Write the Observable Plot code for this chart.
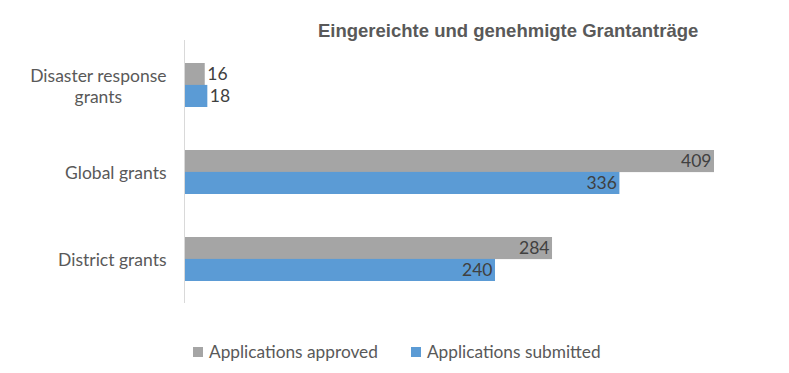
<!DOCTYPE html>
<html>
<head>
<meta charset="utf-8">
<script src="https://cdn.jsdelivr.net/npm/d3@7"></script>
<script src="https://cdn.jsdelivr.net/npm/@observablehq/plot@0.6"></script>
<style>
  html, body { margin: 0; padding: 0; background: #fff; }
  #wrap { position: relative; width: 789px; height: 373px; overflow: hidden; }
  #title { position: absolute; left: 318px; top: 20px; font-family: "Liberation Sans", Arial, sans-serif; font-weight: bold; font-size: 18.5px; color: #595959; white-space: nowrap; }
  #legend { position: absolute; left: 193px; top: 341px; font-family: Lato, "Open Sans", sans-serif; font-size: 17.3px; color: #595959; white-space: nowrap; display: flex; gap: 33px; }
  #legend span.item { display: inline-flex; align-items: center; }
  #legend span.sw { display: inline-block; width: 10px; height: 10px; margin-right: 6px; }
  #chart { position: absolute; left: 0; top: 0; }
</style>
</head>
<body>
<div id="wrap">
  <div id="chart"></div>
  <div id="title">Eingereichte und genehmigte Grantanträge</div>
  <div id="legend"></div>
</div>
<script>
const categories = ["Disaster response\ngrants", "Global grants", "District grants"];
const seriesNames = ["Applications approved", "Applications submitted"];
const approved = [16, 409, 284];
const submitted = [18, 336, 240];
const colors = ["#A5A5A5", "#5B9BD5"];
const titleText = "Eingereichte und genehmigte Grantanträge";

const rowsApproved = categories.map((c, i) => ({category: c, series: seriesNames[0], value: approved[i]}));
const rowsSubmitted = categories.map((c, i) => ({category: c, series: seriesNames[1], value: submitted[i]}));

const half = 21.9;
const labelFont = {fontSize: 17.5, fill: "#404040", fontFamily: "Lato, 'Open Sans', sans-serif"};
const small = d => d.value < 60;

const plot = Plot.plot({
  width: 789,
  height: 373,
  marginTop: 40,
  marginBottom: 70,
  marginLeft: 184,
  marginRight: 75,
  style: {fontFamily: "Lato, 'Open Sans', sans-serif", background: "white"},
  x: {axis: null},
  y: {domain: categories, paddingInner: 0.5, paddingOuter: 0.25, axis: null},
  color: {domain: seriesNames, range: colors},
  marks: [
    Plot.barX(rowsApproved, {x: "value", y: "category", fill: "series", insetBottom: half}),
    Plot.barX(rowsSubmitted, {x: "value", y: "category", fill: "series", insetTop: half}),
    Plot.ruleX([0], {stroke: "#D9D9D9", strokeWidth: 1}),
    Plot.text(rowsApproved.filter(d => !small(d)), {x: "value", y: "category", text: d => String(d.value), dy: -11, dx: -3, textAnchor: "end", ...labelFont}),
    Plot.text(rowsSubmitted.filter(d => !small(d)), {x: "value", y: "category", text: d => String(d.value), dy: 11, dx: -3, textAnchor: "end", ...labelFont}),
    Plot.text(rowsApproved.filter(small), {x: "value", y: "category", text: d => String(d.value), dy: -11, dx: 2, textAnchor: "start", ...labelFont}),
    Plot.text(rowsSubmitted.filter(small), {x: "value", y: "category", text: d => String(d.value), dy: 11, dx: 2, textAnchor: "start", ...labelFont}),
    Plot.axisY({tickSize: 0, tickPadding: 18, fontSize: 17.5, color: "#595959", label: null, lineHeight: 1.2})
  ]
});
document.getElementById("chart").appendChild(plot);

// center multi-line axis labels (like Excel)
d3.select(plot).selectAll("g[aria-label='y-axis tick label'] text").each(function() {
  const tspans = d3.select(this).selectAll("tspan");
  if (tspans.size() > 1) {
    const bb = this.getBBox();
    d3.select(this).attr("text-anchor", "middle");
    tspans.attr("x", -bb.width / 2);
  }
});

document.getElementById("title").textContent = titleText;
const legend = d3.select("#legend");
seriesNames.forEach((s, i) => {
  const it = legend.append("span").attr("class", "item");
  it.append("span").attr("class", "sw").style("background", colors[i]);
  it.append("span").text(s);
});
</script>
</body>
</html>
